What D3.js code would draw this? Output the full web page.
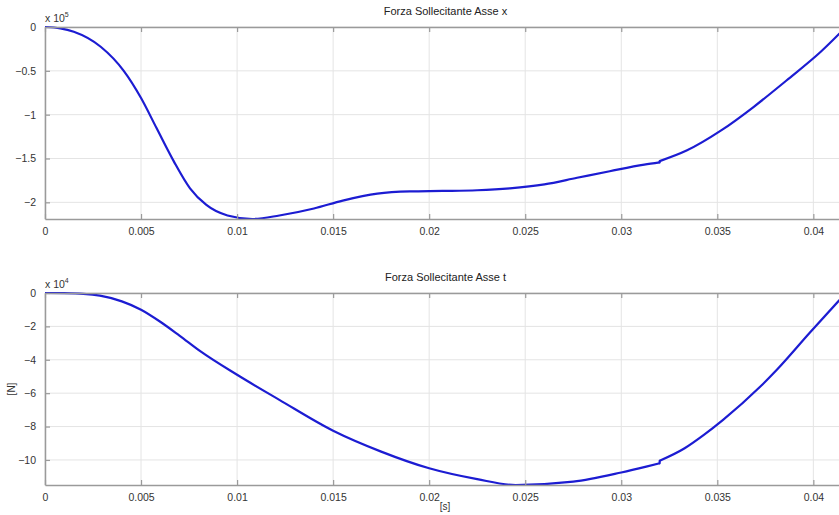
<!DOCTYPE html>
<html>
<head>
<meta charset="utf-8">
<script src="https://cdn.jsdelivr.net/npm/d3@7"></script>
<style>
  body { margin: 0; background: #fff; }
  svg { font-family: "Liberation Sans", Arial, sans-serif; }
</style>
</head>
<body>
<div id="chart"></div>
<script>
// time [s] and force values (shown in units of 10^5 N and 10^4 N)
// the repeated time 0.032 is the small jump visible in both curves
const timeX = [0, 0.0008, 0.0015, 0.0029, 0.0041, 0.005, 0.0058, 0.0067, 0.00755, 0.0084, 0.0095, 0.0108, 0.0122, 0.0140, 0.0155, 0.0173, 0.019, 0.0207, 0.0225, 0.0242, 0.026, 0.0277, 0.0294, 0.0312, 0.032, 0.032, 0.0334, 0.0352, 0.0369, 0.0386, 0.0404, 0.0417]
const forceX = [0, -0.015, -0.054, -0.225, -0.50, -0.81, -1.15, -1.53, -1.84, -2.03, -2.15, -2.19, -2.15, -2.07, -1.98, -1.90, -1.875, -1.87, -1.862, -1.84, -1.795, -1.72, -1.645, -1.57, -1.545, -1.53, -1.41, -1.18, -0.91, -0.61, -0.28, 0]

const timeT = [0, 0.001, 0.002, 0.00286, 0.004, 0.005, 0.006, 0.007, 0.0081, 0.01, 0.0122, 0.015, 0.0175, 0.02, 0.0225, 0.0245, 0.0275, 0.03, 0.0313, 0.032, 0.032, 0.0333, 0.0343, 0.0353, 0.0372, 0.0381, 0.0398, 0.0413, 0.0417]
const forceT = [0, -0.01, -0.05, -0.16, -0.5, -1.0, -1.72, -2.55, -3.5, -4.9, -6.4, -8.25, -9.5, -10.5, -11.15, -11.5, -11.3, -10.75, -10.4, -10.2, -10.05, -9.3, -8.5, -7.6, -5.65, -4.6, -2.4, -0.5, 0]

const xTicks = [0, 0.005, 0.01, 0.015, 0.02, 0.025, 0.03, 0.035, 0.04]
const yTicksX = [0, -0.5, -1, -1.5, -2]
const yTicksT = [0, -2, -4, -6, -8, -10]

const W = 839, H = 515

const svg = d3.select("#chart").append("svg")
    .attr("width", W)
    .attr("height", H)

const x = d3.scaleLinear().domain([0, 0.0417]).range([45, 846])

function panel(opts) {
    const y = d3.scaleLinear().domain(opts.domain).range([opts.bottom, opts.top])
    const g = svg.append("g")
    const [x0, x1] = x.range()

    // grid
    g.selectAll(".vgrid").data(xTicks).join("line")
        .attr("x1", d => x(d)).attr("x2", d => x(d))
        .attr("y1", opts.top).attr("y2", opts.bottom)
        .attr("stroke", "#e4e4e4").attr("stroke-width", 1)
    g.selectAll(".hgrid").data(opts.yTicks).join("line")
        .attr("x1", x0).attr("x2", x1)
        .attr("y1", d => y(d)).attr("y2", d => y(d))
        .attr("stroke", "#e4e4e4").attr("stroke-width", 1)

    // curve, split where the time repeats (jump)
    const pts = opts.t.map((t, i) => [t, opts.v[i]])
    const segs = [[pts[0]]]
    for (let i = 1; i < pts.length; i++) {
        if (pts[i][0] === pts[i - 1][0]) segs.push([])
        segs[segs.length - 1].push(pts[i])
    }
    const smooth = d3.line().curve(d3.curveMonotoneX).x(d => x(d[0])).y(d => y(d[1]))
    const straight = d3.line().x(d => x(d[0])).y(d => y(d[1]))
    const joins = []
    for (let s = 1; s < segs.length; s++) joins.push([segs[s - 1][segs[s - 1].length - 1], segs[s][0]])

    g.selectAll(".seg").data(segs).join("path")
        .attr("fill", "none").attr("stroke", "#1c1cd2")
        .attr("stroke-width", 2.2).attr("stroke-linejoin", "round")
        .attr("d", smooth)
    g.selectAll(".join").data(joins).join("path")
        .attr("fill", "none").attr("stroke", "#1c1cd2")
        .attr("stroke-width", 2.2).attr("stroke-linecap", "round")
        .attr("d", straight)

    // axes (ticks pointing inward like matlab)
    const bottomAxis = g.append("g")
        .attr("transform", `translate(0, ${opts.bottom})`)
        .call(d3.axisBottom(x).tickValues(xTicks).tickSizeInner(-5).tickSizeOuter(0)
            .tickPadding(9).tickFormat(d3.format("")))
    const topAxis = g.append("g")
        .attr("transform", `translate(0, ${opts.top})`)
        .call(d3.axisTop(x).tickValues(xTicks).tickSizeInner(-5).tickSizeOuter(0)
            .tickFormat(""))
    const leftAxis = g.append("g")
        .attr("transform", `translate(${x0}, 0)`)
        .call(d3.axisLeft(y).tickValues(opts.yTicks).tickSizeInner(-5).tickSizeOuter(0)
            .tickPadding(9).tickFormat(d3.format("")))
    ;[bottomAxis, topAxis, leftAxis].forEach(a => {
        a.select(".domain").attr("stroke", "#9a9a9a").attr("stroke-width", 1.5)
        a.selectAll(".tick line").attr("stroke", "#9a9a9a").attr("stroke-width", 1.2)
        a.selectAll(".tick text").attr("fill", "#333").style("font-size", "10.5px")
    })

    // exponent
    const ex = g.append("text")
        .attr("x", 45).attr("y", opts.top - 5)
        .attr("fill", "#333").style("font-size", "10.5px")
        .text("x 10")
    ex.append("tspan").attr("dy", -5).style("font-size", "7px").text(opts.exp)

    // title
    g.append("text")
        .attr("x", (x0 + x1) / 2).attr("y", opts.top - 12)
        .attr("text-anchor", "middle")
        .attr("fill", "#222").style("font-size", "11px")
        .text(opts.title)
}

panel({ t: timeX, v: forceX, domain: [-2.19, 0], top: 27, bottom: 219,
        yTicks: yTicksX, exp: "5", title: "Forza Sollecitante Asse x" })
panel({ t: timeT, v: forceT, domain: [-11.5, 0], top: 293, bottom: 485,
        yTicks: yTicksT, exp: "4", title: "Forza Sollecitante Asse t" })

// axis labels
svg.append("text")
    .attr("x", 445).attr("y", 510)
    .attr("text-anchor", "middle")
    .attr("fill", "#333").style("font-size", "10px")
    .text("[s]")
svg.append("text")
    .attr("transform", "translate(15, 389) rotate(-90)")
    .attr("text-anchor", "middle")
    .attr("fill", "#333").style("font-size", "10px")
    .text("[N]")
</script>
</body>
</html>
